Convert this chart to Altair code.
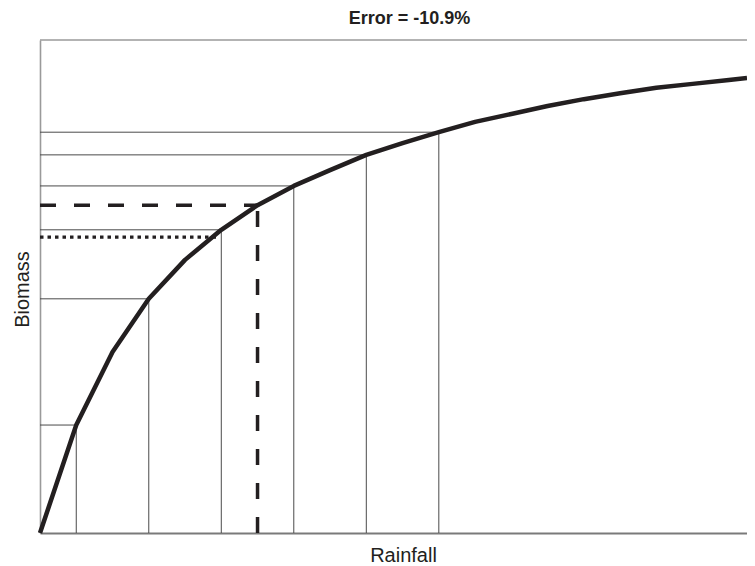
import altair as alt
import pandas as pd

# Curve: rainfall (arbitrary units) vs biomass (% of axis height)
curve_rain = [0, 1, 2, 3, 4, 5, 6, 7, 8, 9, 10, 11, 12, 13, 14, 15, 16, 17, 18, 19, 19.5]
curve_bio = [0, 21.9, 36.7, 47.5, 55.4, 61.5, 66.5, 70.4, 73.6, 76.7, 79.1, 81.3,
             83.4, 85.0, 86.6, 88.0, 89.2, 90.3, 91.1, 91.9, 92.3]

# Sampled rainfall values and their biomass
sample_rain = [1, 3, 5, 7, 9, 11]
sample_bio = [21.9, 47.5, 61.5, 70.4, 76.7, 81.3]

# Biomass at the mean rainfall (dashed) and mean biomass (dotted)
mean_rain = [6]
bio_at_mean_rain = [66.5]
mean_bio = [60.0]
mean_bio_rain = [4.86]

X_MAX = 19.5
Y_MAX = 100

curve_df = pd.DataFrame({"rain": curve_rain, "bio": curve_bio})
samp_df = pd.DataFrame({"rain": sample_rain, "bio": sample_bio, "zero": [0] * len(sample_rain)})
dash_df = pd.DataFrame({"rain": mean_rain, "bio": bio_at_mean_rain, "zero": [0]})
dot_df = pd.DataFrame({"rain": mean_bio_rain, "bio": mean_bio, "zero": [0]})
top_df = pd.DataFrame({"y": [Y_MAX], "x0": [0], "x1": [X_MAX]})

xs = alt.Scale(domain=[0, X_MAX], nice=False, zero=True)
ys = alt.Scale(domain=[0, Y_MAX], nice=False, zero=True)

x_axis = alt.Axis(title="Rainfall", ticks=False, labels=False, grid=False,
                  domainColor="#7a7a7a", domainWidth=1.8,
                  titleFontSize=20, titleFontWeight="normal", titleFont="Liberation Sans",
                  titleColor="#231f20", titleX=363, titleY=28,
                  titleBaseline="alphabetic", titleAlign="center")
y_axis = alt.Axis(title="Biomass", ticks=False, labels=False, grid=False,
                  domainColor="#9a9a9a", domainWidth=1.6,
                  titleFontSize=20, titleFontWeight="normal", titleFont="Liberation Sans",
                  titleColor="#231f20", titleX=-12, titleY=249, titleAngle=-90,
                  titleBaseline="alphabetic", titleAlign="center")

line = alt.Chart(curve_df).mark_line(color="#231f20", strokeWidth=4.5, strokeJoin="round").encode(
    x=alt.X("rain:Q", scale=xs, axis=x_axis),
    y=alt.Y("bio:Q", scale=ys, axis=y_axis),
)

vlines = alt.Chart(samp_df).mark_rule(color="#4a4a4a", strokeWidth=1).encode(
    x="rain:Q", y="zero:Q", y2="bio:Q"
)
hlines = alt.Chart(samp_df).mark_rule(color="#4a4a4a", strokeWidth=1).encode(
    y="bio:Q", x="zero:Q", x2="rain:Q"
)

dash_v = alt.Chart(dash_df).mark_rule(color="#231f20", strokeWidth=3.5, strokeDash=[16, 18]).encode(
    x="rain:Q", y="zero:Q", y2="bio:Q"
)
dash_h = alt.Chart(dash_df).mark_rule(color="#231f20", strokeWidth=3.5, strokeDash=[16, 18]).encode(
    y="bio:Q", x="zero:Q", x2="rain:Q"
)
dot_h = alt.Chart(dot_df).mark_rule(color="#231f20", strokeWidth=3.3, strokeDash=[3.5, 4]).encode(
    y="bio:Q", x="zero:Q", x2="rain:Q"
)
top = alt.Chart(top_df).mark_rule(color="#9a9a9a", strokeWidth=1.6).encode(
    y="y:Q", x="x0:Q", x2="x1:Q"
)

chart = alt.layer(top, vlines, hlines, dash_v, dash_h, dot_h, line).properties(
    width=707,
    height=493,
    title=alt.TitleParams("Error = -10.9%", fontSize=18, fontWeight="bold",
                          font="Liberation Sans", color="#231f20",
                          anchor="middle", dx=16, offset=11),
    autosize=alt.AutoSizeParams(type="none"),
    padding={"left": 32, "top": 32, "right": 0, "bottom": 34},
).configure_view(stroke=None)

chart.save("out.html", embed_options={"renderer": "svg", "actions": False})
